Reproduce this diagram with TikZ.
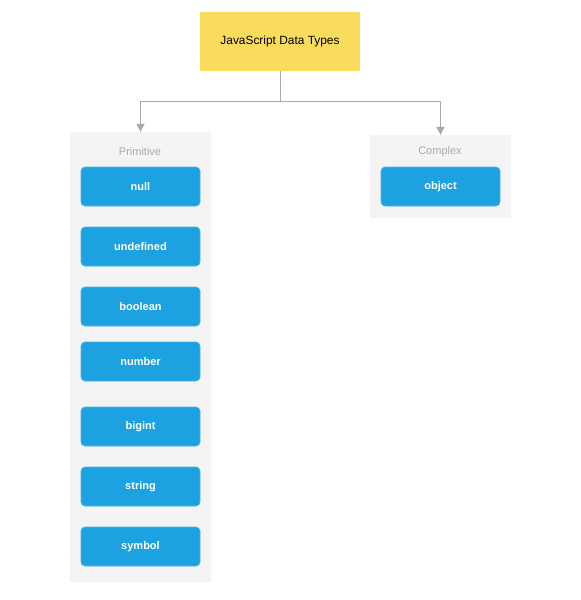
\documentclass[tikz,border=0pt]{standalone}
\usepackage{fontspec}
\setmainfont{Liberation Sans}
\usetikzlibrary{arrows.meta}
\definecolor{titleyellow}{HTML}{F9DC5C}
\definecolor{typeblue}{HTML}{1CA1E1}
\definecolor{panelgray}{HTML}{F4F4F4}
\definecolor{linegray}{HTML}{A8A8A8}
\definecolor{labelgray}{HTML}{AAAAAA}
\tikzset{
  titlebox/.style={fill=titleyellow, draw=none, minimum width=160pt, minimum height=59pt, inner sep=0pt, font=\fontsize{11.9}{13}\selectfont},
  panel/.style={fill=panelgray, draw=none, inner sep=0pt},
  panellabel/.style={text=labelgray, font=\fontsize{11}{13}\selectfont, inner sep=0pt},
  typebox/.style={fill=typeblue, draw=typeblue!80!white, line width=0.6pt, rounded corners=4pt, minimum width=119pt, minimum height=39pt, inner sep=0pt, text=white, font=\bfseries\fontsize{11}{13}\selectfont},
  connector/.style={draw=linegray, line width=1pt, -{Triangle[width=8pt,length=8pt]}}
}
\begin{document}
\begin{tikzpicture}[x=1pt,y=-1pt]
\useasboundingbox (0,0) rectangle (581,600);
% panels
\node[panel, minimum width=141pt, minimum height=450pt] (prim) at (140.5,357) {};
\node[panel, minimum width=141pt, minimum height=83pt] (comp) at (440.5,176.5) {};
\node[panellabel] (primlabel) at (140,151.5) {Primitive};
\node[panellabel] (complabel) at (440,151.5) {Complex};
% title
\node[titlebox] (title) at (280,41.5) {JavaScript Data Types};
% types
\node[typebox] (null) at (140.5,186.5) {null};
\node[typebox] (undefined) at (140.5,246.5) {undefined};
\node[typebox] (boolean) at (140.5,306.5) {boolean};
\node[typebox] (number) at (140.5,361.5) {number};
\node[typebox] (bigint) at (140.5,426.5) {bigint};
\node[typebox] (string) at (140.5,486.5) {string};
\node[typebox] (symbol) at (140.5,546.5) {symbol};
\node[typebox] (object) at (440.5,186.5) {object};
% connectors
\coordinate (split) at (280,101);
\draw[connector] (title.south) -- (split) -| (prim.north);
\draw[connector] (split) -| (comp.north);
\end{tikzpicture}
\end{document}
